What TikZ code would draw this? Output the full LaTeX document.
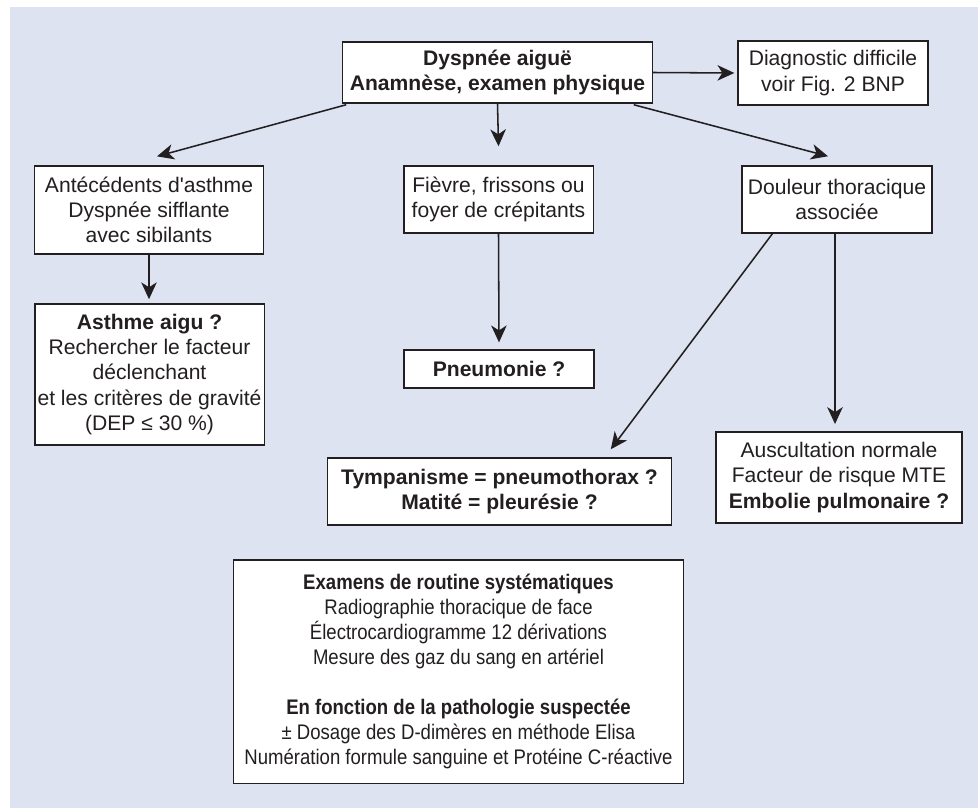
\documentclass[tikz,border=0pt]{standalone}
\usepackage{fontspec}
\setmainfont{Liberation Sans}
\newfontfamily\etroite[FakeStretch=0.88]{Liberation Sans}
\usetikzlibrary{arrows.meta}
\definecolor{fondbleu}{RGB}{221,227,241}
\definecolor{encre}{RGB}{35,31,32}
\begin{document}
\begin{tikzpicture}[x=0.025cm,y=-0.025cm,
  boite/.style={draw=encre,line width=0.9pt,fill=white,align=center,inner sep=0pt,
    text=encre,font=\fontsize{15}{18}\selectfont},
  fleche/.style={draw=encre,line width=1.1pt,-{Stealth[length=12pt,width=11pt,inset=3.5pt]}}]
\useasboundingbox (0,0) rectangle (978,808);
\fill [fondbleu] (10,7) rectangle (978,808);
% niveau 1
\node [boite,minimum width=7.73cm,minimum height=1.53cm] (dysp) at (497.5,72.5)
  {\bfseries Dyspnée aiguë\\ \bfseries Anamnèse, examen physique};
\node [boite,minimum width=4.75cm,minimum height=1.6cm] (diag) at (833,73)
  {Diagnostic difficile\\voir Fig. 2 BNP};
% niveau 2
\node [boite,minimum width=5.73cm,minimum height=2.2cm] (ante) at (149,210)
  {Antécédents d\textquotesingle asthme\\Dyspnée sifflante\\avec sibilants};
\node [boite,minimum width=4.73cm,minimum height=1.68cm] (fievre) at (498.5,199.5)
  {Fièvre, frissons ou\\foyer de crépitants};
\node [boite,minimum width=4.75cm,minimum height=1.68cm] (douleur) at (837,199.5)
  {Douleur thoracique\\associée};
% niveau 3
\node [boite,minimum width=5.73cm,minimum height=3.53cm] (asthme) at (149.5,374.5)
  {\textbf{Asthme aigu ?}\\Rechercher le facteur\\déclenchant\\et les critères de gravité\\(DEP ≤ 30 \%)};
\node [boite,minimum width=4.75cm,minimum height=0.95cm] (pneumo) at (499,369)
  {\bfseries Pneumonie ?};
\node [boite,minimum width=8.58cm,minimum height=1.68cm] (tympan) at (499.5,491.5)
  {\bfseries Tympanisme = pneumothorax ?\\ \bfseries Matité = pleurésie ?};
\node [boite,minimum width=6.15cm,minimum height=2.28cm] (auscult) at (839,477.5)
  {Auscultation normale\\Facteur de risque MTE\\\textbf{Embolie pulmonaire ?}};
% examens
\node [boite,font=\fontsize{15}{17.8}\etroite,minimum width=11.23cm,minimum height=5.58cm] (examens) at (458.5,671.5)
  {\textbf{Examens de routine systématiques}\\Radiographie thoracique de face\\
   Électrocardiogramme 12 dérivations\\Mesure des gaz du sang en artériel\\[17.8pt]
   \textbf{En fonction de la pathologie suspectée}\\± Dosage des D-dimères en méthode Elisa\\
   Numération formule sanguine et Protéine C-réactive};

% fleches depuis dyspnee
\draw [fleche] (dysp.east) -- ([shift={(-3,0)}]diag.west);
\draw [fleche] ([shift={(4,1)}]dysp.south west) -- ([shift={(8,-9)}]ante.north);
\draw [fleche] (dysp.south) -- ([shift={(0,-19)}]fievre.north);
\draw [fleche] ([shift={(-19,1)}]dysp.south east) -- ([shift={(-9,-9)}]douleur.north);
% fleches niveau 2
\draw [fleche] (ante.south) -- ([shift={(0,-4)}]ante.south |- asthme.north);
\draw [fleche] (fievre.south) -- ([shift={(0,-7)}]pneumo.north);
\draw [fleche] ([shift={(31,0)}]douleur.south west) -- ([shift={(-61,-8)}]tympan.north east);
\draw [fleche,shorten >=0.18cm] ([shift={(-2,0)}]douleur.south) -- ([shift={(-2,0)}]douleur.south |- auscult.north);
\end{tikzpicture}
\end{document}
